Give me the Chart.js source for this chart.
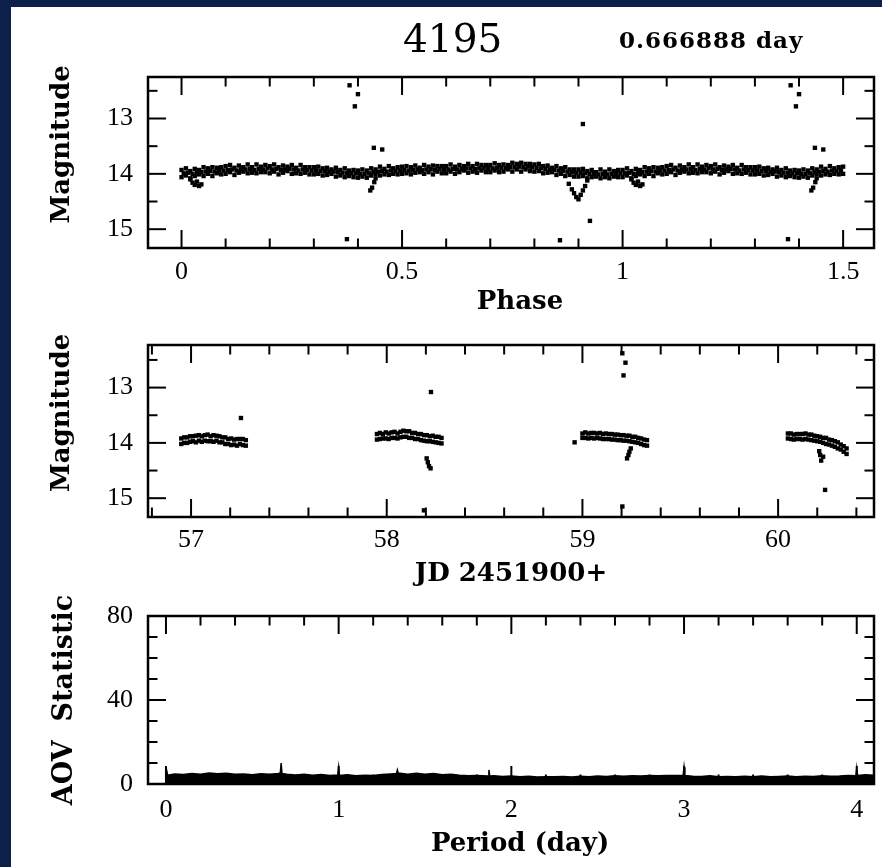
<!DOCTYPE html>
<html>
<head>
<meta charset="utf-8">
<script src="https://cdn.jsdelivr.net/npm/chart.js@4/dist/chart.umd.min.js"></script>
<style>
  html, body { margin: 0; padding: 0; background: #0d204c; }
  #page { position: relative; width: 882px; height: 867px; overflow: hidden; }
  #paper { position: absolute; left: 11px; top: 7px; right: 0; bottom: 0; background: #fff; }
  canvas { position: absolute; left: 0; top: 0; }
</style>
</head>
<body>
<div id="page">
  <div id="paper"></div>
  <canvas id="phasePlot" width="882" height="867"></canvas>
  <canvas id="timePlot" width="882" height="867"></canvas>
  <canvas id="aovPlot" width="882" height="867"></canvas>
</div>
<script>
// ---- header ----
const starId = '4195'
const bestPeriod = 0.666888

// ---- folded light curve (phase 0..1, repeated up to 1.5) ----
const phaseGrid = [0.00,0.01,0.02,0.03,0.04,0.05,0.06,0.07,0.08,0.09,
  0.10,0.11,0.12,0.13,0.14,0.15,0.16,0.17,0.18,0.19,
  0.20,0.21,0.22,0.23,0.24,0.25,0.26,0.27,0.28,0.29,
  0.30,0.31,0.32,0.33,0.34,0.35,0.36,0.37,0.38,0.39,
  0.40,0.41,0.42,0.43,0.44,0.45,0.46,0.47,0.48,0.49,
  0.50,0.51,0.52,0.53,0.54,0.55,0.56,0.57,0.58,0.59,
  0.60,0.61,0.62,0.63,0.64,0.65,0.66,0.67,0.68,0.69,
  0.70,0.71,0.72,0.73,0.74,0.75,0.76,0.77,0.78,0.79,
  0.80,0.81,0.82,0.83,0.84,0.85,0.86,0.87,0.88,0.89,
  0.90,0.91,0.92,0.93,0.94,0.95,0.96,0.97,0.98,0.99]
const phaseGridMid = [0.005,0.015,0.025,0.035,0.045,0.055,0.065,0.075,0.085,0.095,
  0.105,0.115,0.125,0.135,0.145,0.155,0.165,0.175,0.185,0.195,
  0.205,0.215,0.225,0.235,0.245,0.255,0.265,0.275,0.285,0.295,
  0.305,0.315,0.325,0.335,0.345,0.355,0.365,0.375,0.385,0.395,
  0.405,0.415,0.425,0.435,0.445,0.455,0.465,0.475,0.485,0.495,
  0.505,0.515,0.525,0.535,0.545,0.555,0.565,0.575,0.585,0.595,
  0.605,0.615,0.625,0.635,0.645,0.655,0.665,0.675,0.685,0.695,
  0.705,0.715,0.725,0.735,0.745,0.755,0.765,0.775,0.785,0.795,
  0.805,0.815,0.825,0.835,0.845,0.855,0.865,0.875,0.885,0.895,
  0.905,0.915,0.925,0.935,0.945,0.955,0.965,0.975,0.985,0.995]
const phaseMagHi = [13.93,13.90,13.95,13.91,13.93,13.88,13.90,13.88,13.89,13.88,
  13.86,13.84,13.89,13.85,13.88,13.83,13.88,13.83,13.87,13.84,
  13.86,13.83,13.88,13.85,13.87,13.84,13.89,13.84,13.88,13.88,
  13.88,13.87,13.90,13.89,13.92,13.89,13.93,13.90,13.94,13.93,
  13.94,13.92,13.94,13.90,13.92,13.87,13.91,13.86,13.90,13.88,
  13.87,13.86,13.88,13.85,13.89,13.84,13.87,13.85,13.86,13.86,
  13.86,13.83,13.87,13.84,13.86,13.82,13.86,13.82,13.84,13.84,
  13.84,13.81,13.84,13.83,13.84,13.80,13.82,13.80,13.82,13.82,
  13.83,13.82,13.86,13.85,13.89,13.86,13.90,13.88,13.92,13.92,
  13.92,13.91,13.95,13.93,13.97,13.92,13.96,13.92,13.95,13.93]
const phaseMagMid = [13.99,13.98,14.00,13.98,13.97,13.96,13.95,13.96,13.94,13.94,
  13.93,13.92,13.94,13.92,13.92,13.91,13.93,13.91,13.92,13.90,
  13.92,13.91,13.93,13.92,13.91,13.92,13.94,13.92,13.93,13.94,
  13.94,13.95,13.95,13.96,13.96,13.97,13.98,13.98,13.99,13.99,
  14.00,14.00,13.99,13.97,13.96,13.95,13.96,13.94,13.95,13.94,
  13.93,13.94,13.93,13.92,13.93,13.92,13.92,13.93,13.91,13.92,
  13.92,13.91,13.92,13.91,13.90,13.90,13.91,13.90,13.89,13.90,
  13.90,13.89,13.89,13.90,13.88,13.88,13.87,13.88,13.87,13.88,
  13.89,13.90,13.91,13.92,13.93,13.94,13.95,13.96,13.97,13.98,
  13.98,13.99,14.00,14.00,14.01,14.00,14.01,14.00,14.00,13.99]
const phaseMagLo = [14.06,14.03,14.08,14.04,14.01,14.04,14.00,14.04,13.99,14.01,
  14.00,13.97,14.02,13.98,13.96,13.99,13.98,13.99,13.97,13.97,
  13.99,13.96,14.01,13.98,13.95,14.00,13.99,14.00,13.98,14.01,
  14.01,14.00,14.03,14.02,14.00,14.05,14.03,14.06,14.04,14.06,
  14.07,14.05,14.07,14.03,14.00,14.03,14.01,14.02,14.00,14.01,
  14.00,13.99,14.01,13.98,13.97,14.00,13.97,14.01,13.96,13.99,
  13.99,13.96,14.00,13.97,13.94,13.98,13.96,13.98,13.94,13.97,
  13.97,13.94,13.97,13.96,13.92,13.96,13.92,13.96,13.92,13.95,
  13.96,13.95,13.99,13.98,13.97,14.02,14.00,14.04,14.02,14.05,
  14.05,14.04,14.08,14.06,14.05,14.08,14.06,14.08,14.05,14.06]
// dips and stray points
const phaseOdd = [0.020,0.025,0.030,0.035,0.040,0.045,
  0.375,0.381,0.393,0.400,0.428,0.432,0.437,0.440,0.436,0.455,
  0.858,0.878,0.885,0.890,0.895,0.900,0.905,0.910,0.915,0.920,0.910,0.926]
const phaseOddMag = [14.10,14.16,14.20,14.14,14.22,14.19,
  15.18,12.40,12.78,12.56,14.30,14.25,14.15,14.08,13.53,13.56,
  15.20,14.18,14.28,14.35,14.42,14.46,14.38,14.30,14.22,14.12,13.10,14.85]
const phaseMajor = [0, 0.5, 1, 1.5]
const phaseMinor = [0.1,0.2,0.3,0.4,0.6,0.7,0.8,0.9,1.1,1.2,1.3,1.4]
const magMajor = [13, 14, 15]
const magMinor = [12.5, 13.5, 14.5]

// ---- light curve against time ----
const jdTimes = [56.95,56.965,56.98,56.995,57.01,57.025,57.04,57.055,57.07,57.085,57.1,57.115,
  57.13,57.145,57.16,57.175,57.19,57.205,57.22,57.235,57.25,57.265,57.28,
  57.95,57.965,57.98,57.995,58.01,58.025,58.04,58.055,58.07,58.085,58.1,58.115,
  58.13,58.145,58.16,58.175,58.19,58.205,58.22,58.235,58.25,58.265,58.28,
  59.0,59.015,59.03,59.045,59.06,59.075,59.09,59.105,59.12,59.135,59.15,59.165,
  59.18,59.195,59.21,59.225,59.24,59.255,59.27,59.285,59.3,59.315,59.33,
  60.05,60.065,60.08,60.095,60.11,60.125,60.14,60.155,60.17,60.185,60.2,
  60.215,60.23,60.245,60.26,60.275,60.29,60.305,60.32,60.335,60.35]
const jdMagHi = [13.92,13.90,13.90,13.88,13.88,13.87,13.86,13.88,13.86,13.85,13.88,13.86,
  13.87,13.88,13.90,13.90,13.93,13.92,13.94,13.93,13.93,13.93,13.95,
  13.84,13.82,13.84,13.81,13.83,13.81,13.80,13.83,13.80,13.78,13.79,13.79,
  13.82,13.82,13.84,13.84,13.86,13.86,13.88,13.87,13.89,13.89,13.91,
  13.83,13.81,13.83,13.82,13.82,13.83,13.82,13.84,13.83,13.84,13.84,13.85,
  13.85,13.86,13.86,13.87,13.87,13.89,13.89,13.91,13.92,13.94,13.95,
  13.83,13.83,13.85,13.84,13.84,13.84,13.83,13.85,13.85,13.87,13.88,
  13.89,13.91,13.91,13.94,13.95,13.97,13.99,14.03,14.06,14.10]
const jdMagLo = [14.02,14.00,14.00,13.98,13.97,13.99,13.96,13.98,13.96,13.97,13.97,13.98,
  13.96,13.99,13.99,14.02,14.02,14.04,14.03,14.05,14.02,14.04,14.05,
  13.94,13.93,13.92,13.92,13.93,13.91,13.91,13.92,13.90,13.89,13.89,13.91,
  13.91,13.93,13.93,13.95,13.96,13.97,13.97,13.98,13.99,14.00,14.01,
  13.91,13.91,13.92,13.91,13.92,13.91,13.92,13.93,13.93,13.93,13.94,13.94,
  13.95,13.95,13.96,13.96,13.97,13.98,13.99,14.00,14.02,14.04,14.05,
  13.92,13.93,13.94,13.93,13.93,13.94,13.93,13.94,13.95,13.96,13.97,
  13.98,14.00,14.02,14.03,14.05,14.07,14.10,14.12,14.16,14.20]
const jdOdd = [57.255, 58.19,58.204,58.21,58.216,58.224,58.226,
  58.96,59.204,59.22,59.21,59.204,59.228,59.235,59.24,59.247,
  60.21,60.215,60.22,60.23,60.24]
const jdOddMag = [13.55, 15.22,14.28,14.35,14.42,14.46,13.08,
  13.99,12.38,12.55,12.78,15.15,14.28,14.22,14.16,14.10,
  14.15,14.22,14.32,14.25,14.85]
const jdMajor = [57, 58, 59, 60]
const jdMinor = [56.8,57.2,57.4,57.6,57.8,58.2,58.4,58.6,58.8,59.2,59.4,59.6,59.8,60.2,60.4]

// ---- AOV periodogram ----
const aovPeriod = [0,0.01,0.05,0.10,0.15,0.20,0.25,0.30,0.35,0.40,0.45,0.50,0.55,0.60,0.65,
  0.662,0.667,0.672,0.70,0.75,0.80,0.85,0.90,0.95,0.995,1.0,1.005,1.05,1.10,1.15,1.20,
  1.25,1.30,1.335,1.34,1.345,1.40,1.45,1.50,1.55,1.60,1.65,1.70,1.75,1.80,1.865,1.87,
  1.875,1.90,1.95,2.00,2.05,2.10,2.15,2.20,2.25,2.30,2.35,2.40,2.45,2.50,2.55,2.60,
  2.65,2.70,2.75,2.80,2.85,2.90,2.95,2.995,3.0,3.005,3.05,3.10,3.15,3.20,3.25,3.30,
  3.35,3.40,3.45,3.50,3.55,3.60,3.65,3.70,3.75,3.80,3.85,3.90,3.95,3.995,4.0,4.005,
  4.05,4.10]
const aovStat = [8.0,4.2,4.8,4.5,5.0,4.6,5.2,4.9,5.1,4.6,4.8,4.4,4.9,4.7,5.0,
  5.2,10.0,5.0,4.6,4.3,4.7,4.2,4.5,4.1,4.3,8.0,4.0,4.4,3.9,4.2,4.0,
  4.5,4.8,5.0,6.7,5.2,4.6,5.1,4.7,5.0,4.4,4.6,4.2,3.9,4.1,3.8,6.7,
  3.8,3.9,3.6,3.8,3.4,3.7,3.3,3.5,3.4,3.6,3.3,3.7,3.5,3.8,3.6,3.9,
  3.7,3.9,3.8,4.0,3.9,4.1,4.0,4.2,8.0,4.0,3.7,3.6,3.9,3.5,3.6,3.4,
  3.7,3.5,3.8,3.4,3.6,3.8,3.5,3.7,3.6,3.9,3.7,3.8,4.0,3.9,7.5,4.0,
  4.4,4.2]
const periodMajor = [0, 1, 2, 3, 4]
const periodMinor = [0.2,0.4,0.6,0.8,1.2,1.4,1.6,1.8,2.2,2.4,2.6,2.8,3.2,3.4,3.6,3.8]
const aovMajor = [0, 40, 80]
const aovMinor = [10, 20, 30, 50, 60, 70]

// ---- styling helpers ----
const tickFont = { family: '"Liberation Serif"', size: 26, lineHeight: 1 }
const titleFont = { family: '"DejaVu Serif"', size: 26, weight: 'bold', lineHeight: 1 }

function pairs(xs, ys) {
  return xs.map((x, i) => ({ x: x, y: ys[i] }))
}
// folded curve: phases up to 0.5 are plotted a second time at phase + 1
function folded(xs, ys) {
  const pts = pairs(xs, ys)
  xs.forEach((x, i) => { if (x <= 0.5) pts.push({ x: x + 1, y: ys[i] }) })
  return pts
}

// box with inward major/minor ticks on all four sides
const framePlugin = {
  id: 'frame',
  afterDraw(chart, args, opts) {
    const { ctx, chartArea: a, scales } = chart
    ctx.save()
    ctx.strokeStyle = '#000'
    ctx.lineWidth = 2
    const seg = (x1, y1, x2, y2) => { ctx.beginPath(); ctx.moveTo(x1, y1); ctx.lineTo(x2, y2); ctx.stroke() }
    const marks = (scale, values, len) => {
      values.forEach(v => {
        const p = scale.getPixelForValue(v)
        if (scale.isHorizontal()) {
          seg(p, a.bottom, p, a.bottom - len)
          seg(p, a.top, p, a.top + len)
        } else {
          seg(a.left, p, a.left + len, p)
          seg(a.right, p, a.right - len, p)
        }
      })
    }
    marks(scales.x, opts.xMinor, 9.5)
    marks(scales.x, opts.xMajor, 18)
    marks(scales.y, opts.yMinor, 9.5)
    marks(scales.y, opts.yMajor, 18)
    ctx.lineWidth = 2.5
    ctx.strokeRect(a.left, a.top, a.right - a.left, a.bottom - a.top)
    ctx.restore()
  }
}

const headerPlugin = {
  id: 'header',
  afterDraw(chart) {
    const ctx = chart.ctx
    ctx.save()
    ctx.fillStyle = '#000'
    ctx.textBaseline = 'alphabetic'
    ctx.font = '39px "DejaVu Serif"'
    ctx.fillText(starId, 403, 52)
    ctx.font = 'bold 23px "DejaVu Serif"'
    ctx.letterSpacing = '1px'
    ctx.fillText(bestPeriod.toFixed(6) + ' day', 619, 48)
    ctx.restore()
  }
}

function xAxis(min, max, major, text, labelPad, titlePad, height) {
  return {
    type: 'linear', position: 'bottom', min: min, max: max,
    afterBuildTicks: s => { s.ticks = major.map(v => ({ value: v })) },
    afterFit: s => { s.height = height; s.paddingLeft = 0; s.paddingRight = 0 },
    grid: { display: false, drawTicks: false },
    border: { display: false },
    ticks: { padding: labelPad, maxRotation: 0, autoSkip: false, font: tickFont, color: '#000',
      callback: v => String(v) },
    title: { display: true, text: text, font: titleFont, color: '#000', padding: { top: 0, bottom: titlePad } }
  }
}

function yAxis(min, max, major, text, titlePad, reverse, font) {
  return {
    type: 'linear', position: 'left', min: min, max: max, reverse: reverse,
    afterBuildTicks: s => { s.ticks = major.map(v => ({ value: v })) },
    afterFit: s => { s.width = 137; s.paddingTop = 0; s.paddingBottom = 0 },
    grid: { display: false, drawTicks: false },
    border: { display: false },
    ticks: { padding: 15, autoSkip: false, font: tickFont, color: '#000', callback: v => String(v) },
    title: { display: true, text: text, font: font || titleFont, color: '#000', padding: { top: titlePad, bottom: 0 } }
  }
}

function baseOptions(padding, scales, frame) {
  return {
    responsive: false,
    animation: false,
    events: [],
    layout: { padding: padding },
    scales: scales,
    plugins: { legend: { display: false }, tooltip: { enabled: false }, frame: frame }
  }
}

const dotStyle = { pointStyle: 'rect', pointRadius: 3.1, backgroundColor: '#000', borderWidth: 0 }

new Chart(document.getElementById('phasePlot'), {
  type: 'scatter',
  data: { datasets: [
    { data: folded(phaseGrid, phaseMagHi), ...dotStyle },
    { data: folded(phaseGridMid, phaseMagMid), ...dotStyle },
    { data: folded(phaseGrid, phaseMagLo), ...dotStyle },
    { data: folded(phaseOdd, phaseOddMag), ...dotStyle }
  ]},
  options: baseOptions({ left: 11, top: 77, right: 8, bottom: 549 }, {
    x: xAxis(-0.076, 1.57, phaseMajor, '  Phase', 11, 3, 70),
    y: yAxis(12.25, 15.34, magMajor, '    Magnitude', 38.5, true)
  }, { xMajor: phaseMajor, xMinor: phaseMinor, yMajor: magMajor, yMinor: magMinor }),
  plugins: [framePlugin, headerPlugin]
})

new Chart(document.getElementById('timePlot'), {
  type: 'scatter',
  data: { datasets: [
    { data: pairs(jdTimes, jdMagHi), ...dotStyle },
    { data: pairs(jdTimes, jdMagLo), ...dotStyle },
    { data: pairs(jdOdd, jdOddMag), ...dotStyle }
  ]},
  options: baseOptions({ left: 11, top: 345, right: 8, bottom: 280 }, {
    x: xAxis(56.78, 60.49, jdMajor, 'JD 2451900+', 10, 0, 70),
    y: yAxis(12.23, 15.34, magMajor, '    Magnitude', 38.5, true)
  }, { xMajor: jdMajor, xMinor: jdMinor, yMajor: magMajor, yMinor: magMinor }),
  plugins: [framePlugin]
})

new Chart(document.getElementById('aovPlot'), {
  type: 'line',
  data: { datasets: [{
    data: pairs(aovPeriod, aovStat),
    borderColor: '#000', backgroundColor: '#000', borderWidth: 1.5,
    fill: 'origin', pointRadius: 0, tension: 0
  }]},
  options: baseOptions({ left: 11, top: 616, right: 8, bottom: 3 }, {
    x: xAxis(-0.104, 4.10, periodMajor, '  Period (day)', 13.5, 7, 80),
    y: yAxis(0, 80, aovMajor, 'AOV  Statistic', 40.5, false,
      { family: '"DejaVu Serif"', size: 27, weight: 'bold', lineHeight: 1 })
  }, { xMajor: periodMajor, xMinor: periodMinor, yMajor: aovMajor, yMinor: aovMinor }),
  plugins: [framePlugin]
})
</script>
</body>
</html>
